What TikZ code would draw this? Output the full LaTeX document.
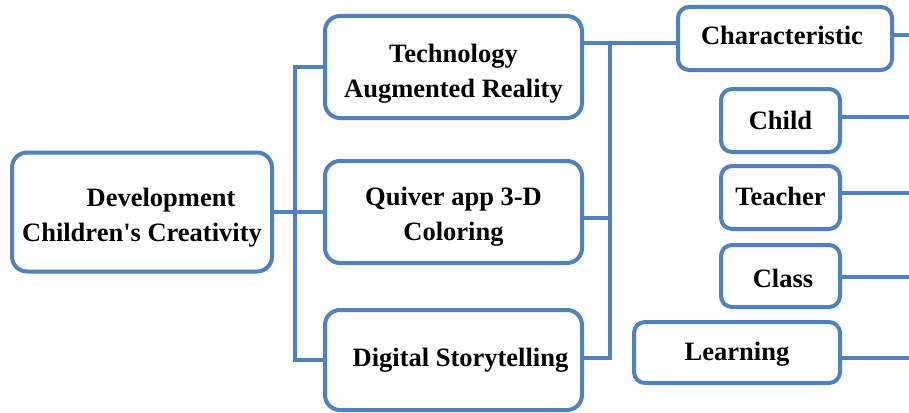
\documentclass[tikz,border=0pt]{standalone}
\usepackage{fontspec}
\setmainfont{Liberation Serif}
\definecolor{boxblue}{RGB}{79,129,189}
\newcommand{\shiftby}[2]{\raisebox{#1}[\height][\depth]{#2}}
\newcommand{\twolines}[3]{\shiftby{#1}{\begin{tabular}{@{}c@{}}#2\\#3\end{tabular}}}
\begin{document}
\begin{tikzpicture}[x=1pt,y=-1pt,
  box/.style={draw=boxblue, line width=4pt, rounded corners=15pt, fill=white,
    inner sep=0pt, align=center, font=\fontsize{26.5}{35}\selectfont\bfseries},
  smallbox/.style={box, rounded corners=11pt},
  link/.style={draw=boxblue, line width=4pt, line join=miter}]
\useasboundingbox (0,0) rectangle (909,412);

\node[box, minimum width=260pt, minimum height=119pt] (dev) at (142,212)
  {\twolines{-5pt}{\hspace*{38pt}Development}{Children\textquotesingle s Creativity}};
\node[box, minimum width=257pt, minimum height=102pt] (tech) at (453.5,67)
  {\twolines{-6pt}{Technology}{Augmented Reality}};
\node[box, minimum width=257pt, minimum height=102pt] (quiver) at (453.5,212)
  {\twolines{-4pt}{Quiver app 3-D}{Coloring}};
\node[box, minimum width=257pt, minimum height=100pt] (digital) at (453.5,360)
  {\hspace*{14pt}Digital Storytelling};
\node[smallbox, minimum width=214pt, minimum height=63pt] (char) at (785,38.5)
  {\shiftby{3pt}{Characteristic}\hspace*{6pt}};
\node[smallbox, minimum width=119pt, minimum height=63pt] (child) at (780.5,120.5) {Child};
\node[smallbox, minimum width=119pt, minimum height=63pt] (teacher) at (780.5,197.5) {\shiftby{1pt}{Teacher}};
\node[smallbox, minimum width=119pt, minimum height=62pt] (class) at (780.5,276) {\hspace*{5pt}\shiftby{-2pt}{Class}};
\node[smallbox, minimum width=206pt, minimum height=61pt] (learn) at (737,352.5) {\shiftby{-2pt}{Learning}};

% left tree
\coordinate (jl) at (295,212);
\path[link] (dev.east) -- (jl);
\path[link] (tech.west) -| (jl) |- (digital.west);
\path[link] (jl) -- (quiver.west);

% right tree
\coordinate (jr) at (610,43);
\coordinate (jq) at (610,218);
\coordinate (jd) at (610,358);
\path[link] (tech.east |- jr) -- (jr) -- (jd) -- (digital.east |- jd);
\path[link] (jq) -- (quiver.east |- jq);
\path[link] (jr) -- (char.west |- jr);

% lines to the right edge
\coordinate (ec) at (909,35);
\coordinate (eh) at (909,117);
\coordinate (et) at (909,193);
\coordinate (ek) at (909,277);
\coordinate (el) at (909,358);
\path[link] (char.east |- ec) -- (ec);
\path[link] (child.east |- eh) -- (eh);
\path[link] (teacher.east |- et) -- (et);
\path[link] (class.east |- ek) -- (ek);
\path[link] (learn.east |- el) -- (el);
\end{tikzpicture}
\end{document}
